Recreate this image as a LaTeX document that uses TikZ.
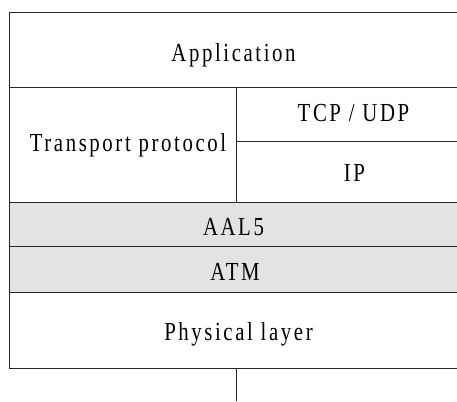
\documentclass[tikz,border=0pt]{standalone}
\usepackage{fontspec}
\setmainfont{Liberation Serif}[FakeStretch=0.8,LetterSpace=10]
\begin{document}
\begin{tikzpicture}[x=1pt,y=-1pt,
  rule/.style={draw=black!85,line width=1pt},
  lbl/.style={anchor=base,inner sep=0pt,font=\fontsize{26}{30}\selectfont,text=black}]
\useasboundingbox (0,0) rectangle (457,401);
% shaded ATM rows
\fill[fill=black!11] (9,202) rectangle (457,292.5);
% frame and rules
\draw[rule] (457,12.5) -- (9,12.5) -- (9,368) -- (457,368);
\draw[rule] (9,88) -- (457,88);
\draw[rule] (236,88) -- (236,202);
\draw[rule] (236,141) -- (457,141);
\draw[rule] (9,202) -- (457,202);
\draw[rule] (9,246.7) -- (457,246.7);
\draw[rule] (9,292.5) -- (457,292.5);
% labels
\node[lbl] (app) at (233.5,61.7) {Application};
\node[lbl] (trans) at (128,151.7) {Transport protocol};
\node[lbl] (tcp) at (353.5,121.7) {TCP / UDP};
\node[lbl] (ip) at (354.5,181.7) {IP};
\node[lbl] (aal) at (233.5,235) {AAL5};
\node[lbl] (atm) at (235,280.7) {ATM};
\node[lbl] (phy) at (238.5,340) {Physical layer};
% stem below
\coordinate (stemtop) at (236,368);
\coordinate (stembot) at (236,401);
\draw[rule] (stemtop) -- (stembot);
\end{tikzpicture}
\end{document}
